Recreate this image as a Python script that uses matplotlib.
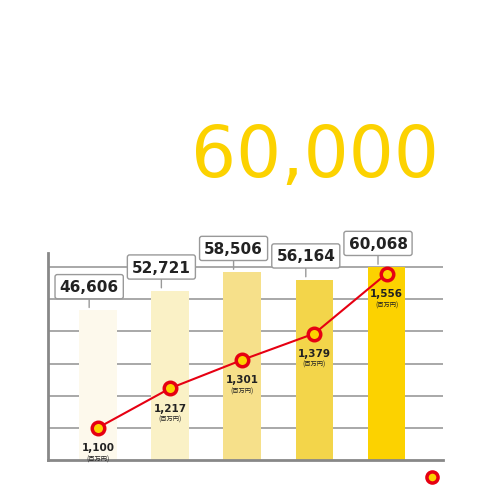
import matplotlib.pyplot as plt

plt.rcParams['font.family'] = ['DejaVu Sans', 'Noto Sans CJK JP']

years = [0, 1, 2, 3, 4]
sales = [46606, 52721, 58506, 56164, 60068]
profit = [1100, 1217, 1301, 1379, 1556]
bar_colors = ['#FDF9EC', '#FAF1C6', '#F6E08A', '#F3D54A', '#FCD200']
headline = '60,000'

fig = plt.figure(figsize=(4.8, 5.02), dpi=100)
W, H = 480, 502
ax = fig.add_axes([48 / W, 41 / H, 395 / W, 207 / H])
ax.set_xlim(-0.69, 4.78)
ax.set_ylim(0, 64430)
ax.bar(years, sales, width=0.52, color=bar_colors, zorder=2)
for y in range(10000, 70000, 10000):
    ax.axhline(y, color='#999999', lw=1.2, zorder=1)
for s in ['top', 'right']:
    ax.spines[s].set_visible(False)
for s in ['left', 'bottom']:
    ax.spines[s].set_color('#888888')
    ax.spines[s].set_linewidth(2)
ax.set_xticks([])
ax.set_yticks([])

for x, v in zip(years, sales):
    ax.annotate(f'{v:,}', xy=(x - 0.12, v), xytext=(0, 17), textcoords='offset points',
                ha='center', va='center', fontsize=11, fontweight='bold', color='#222222',
                bbox=dict(boxstyle='round,pad=0.3,rounding_size=0.15', fc='white', ec='#999999', lw=1),
                arrowprops=dict(arrowstyle='-', color='#999999', lw=1, shrinkA=0, shrinkB=2),
                zorder=5)

ax2 = ax.twinx()
ax2.set_ylim(1005, 1617)
ax2.axis('off')
ax2.plot(years, profit, color='#E60012', lw=1.5, marker='o', ms=9,
         mfc='#FCD200', mec='#E60012', mew=2.5, zorder=4)
for x, v in zip(years, profit):
    ax2.annotate(f'{v:,}', xy=(x, v), xytext=(0, -14), textcoords='offset points',
                 ha='center', va='center', fontsize=7.5, fontweight='bold', color='#222222')
    ax2.annotate('(百万円)', xy=(x, v), xytext=(0, -22), textcoords='offset points',
                 ha='center', va='center', fontsize=4.5, color='#222222',
                 family=['Noto Sans CJK JP', 'DejaVu Sans'])

fig.text(315 / W, 1 - 158 / H, headline, ha='center', va='center', fontsize=51,
         color='#FCD200', fontweight='medium')
fig.add_artist(plt.Line2D([432 / W], [1 - 478 / H], marker='o', ms=8, mfc='#FCD200',
                          mec='#E60012', mew=2.5, transform=fig.transFigure))

fig.savefig('out.png', dpi=100)
